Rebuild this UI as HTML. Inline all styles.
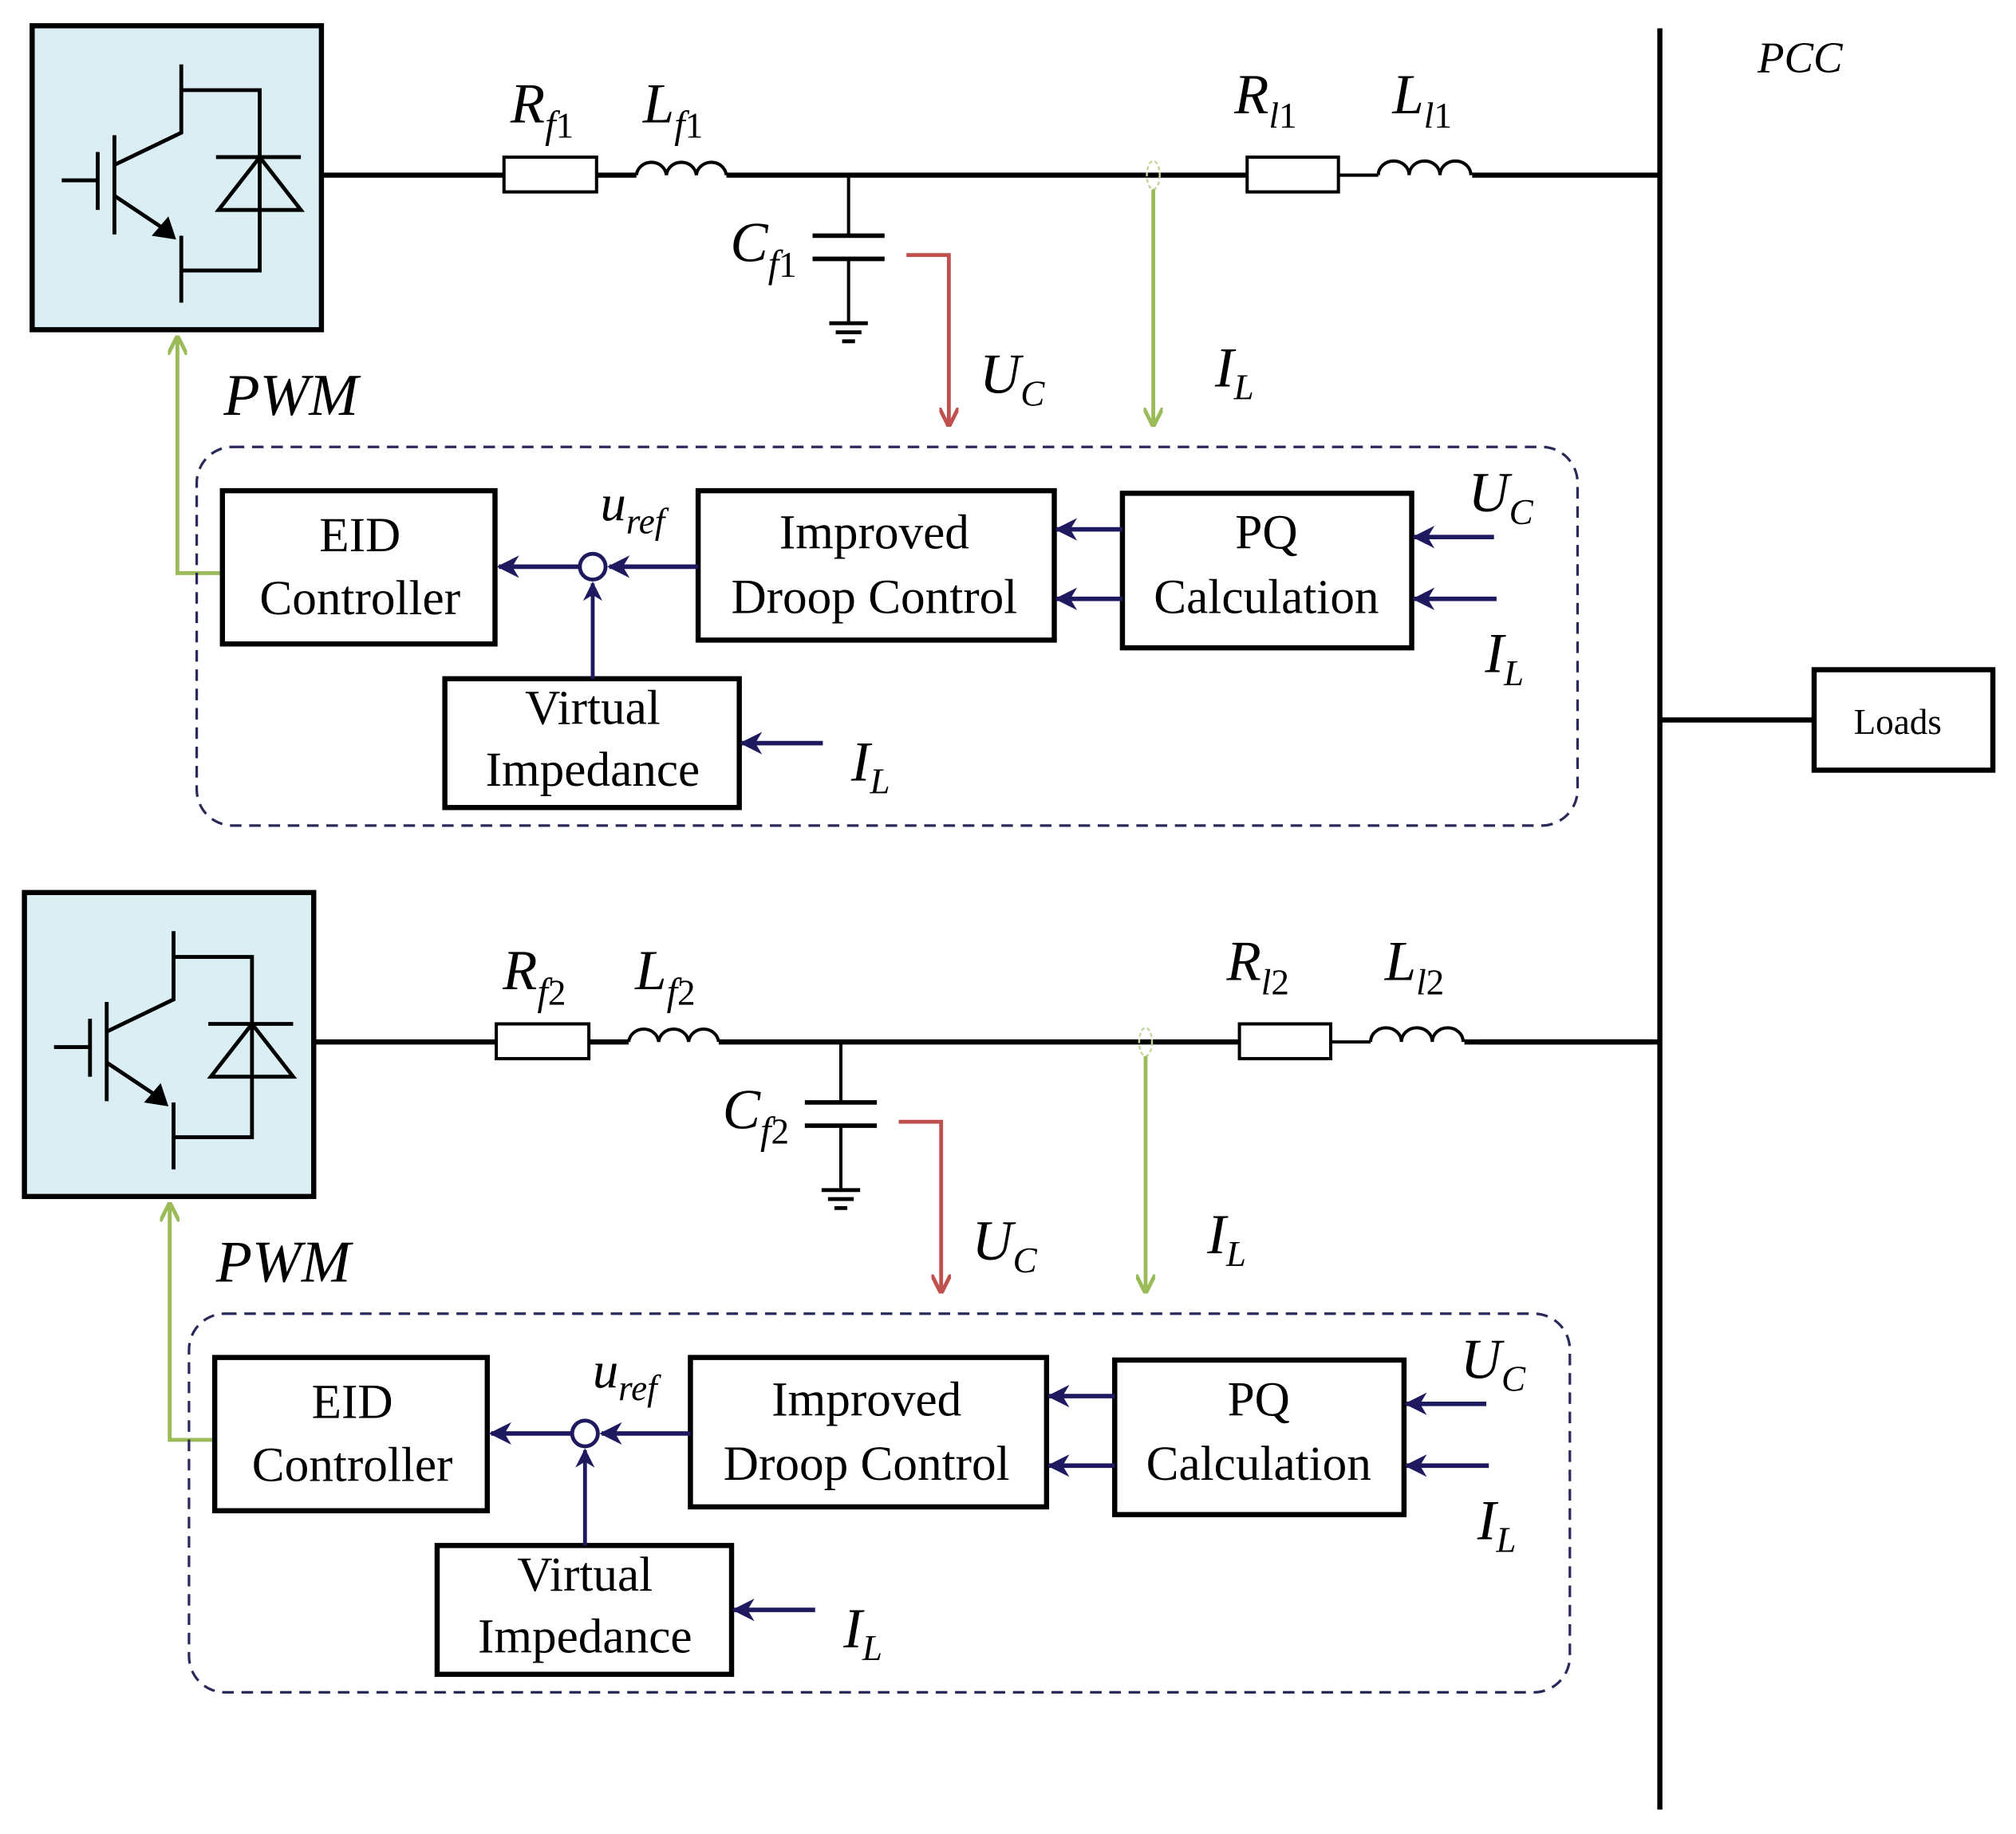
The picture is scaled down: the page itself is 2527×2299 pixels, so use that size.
<!DOCTYPE html>
<html><head><meta charset="utf-8"><style>
html,body{margin:0;padding:0;background:#fff;}
svg{display:block;}
text{font-family:"Liberation Serif",serif;fill:#000;}
.it{font-style:italic;}
</style></head><body>
<svg width="2527" height="2299" viewBox="0 0 1568 1424" preserveAspectRatio="none" xmlns="http://www.w3.org/2000/svg">
<defs>
<marker id="an" viewBox="0 0 10 10" refX="9" refY="5" markerWidth="5" markerHeight="5" orient="auto" markerUnits="strokeWidth"><path d="M0,0 L10,5 L0,10 L3,5 z" fill="#1f1a60"/></marker>
<marker id="ar" viewBox="0 0 10 10" refX="9" refY="5" markerWidth="5" markerHeight="5" orient="auto" markerUnits="strokeWidth"><path d="M0,0 L10,5 L0,10" fill="none" stroke="#c0504d" stroke-width="2"/></marker>
<marker id="ag" viewBox="0 0 10 10" refX="9" refY="5" markerWidth="5" markerHeight="5" orient="auto" markerUnits="strokeWidth"><path d="M0,0 L10,5 L0,10" fill="none" stroke="#9bbb59" stroke-width="2"/></marker>
<g id="unit">
  <rect x="25" y="20" width="225" height="236" fill="#daeef3" stroke="#000" stroke-width="4"/>
  <g stroke="#000" stroke-width="3" fill="none">
    <line x1="48" y1="140" x2="76" y2="140"/>
    <line x1="76" y1="118" x2="76" y2="163"/>
    <line x1="89" y1="105" x2="89" y2="182"/>
    <polyline points="141,50 141,103 89,128"/>
    <polyline points="141,70 202,70 202,210 141,210"/>
    <line x1="89" y1="152" x2="128" y2="178"/>
    <line x1="141" y1="183" x2="141" y2="235"/>
    <line x1="168" y1="122" x2="234" y2="122"/>
    <polygon points="202,122 170,163 234,163"/>
  </g>
  <polygon points="118,183 137,186 131,168" fill="#000"/>
  <g stroke="#000" fill="none">
    <line x1="250" y1="136" x2="392" y2="136" stroke-width="4"/>
    <rect x="392" y="122" width="72" height="27" stroke-width="2.5" fill="#fff"/>
    <line x1="464" y1="136" x2="495" y2="136" stroke-width="4"/>
    <path d="M495,136 a11.7,11 0 0 1 23.3,0 a11.7,11 0 0 1 23.3,0 a11.7,11 0 0 1 23.3,0" stroke-width="2.5"/>
    <line x1="565" y1="136" x2="970" y2="136" stroke-width="4"/>
    <rect x="970" y="122" width="71" height="27" stroke-width="2.5" fill="#fff"/>
    <line x1="1041" y1="136" x2="1072" y2="136" stroke-width="2.5"/>
    <path d="M1072,136 a12,11 0 0 1 24,0 a12,11 0 0 1 24,0 a12,11 0 0 1 24,0" stroke-width="2.5"/>
    <line x1="1145" y1="136" x2="1291" y2="136" stroke-width="4"/>
    <line x1="660" y1="136" x2="660" y2="183" stroke-width="2.5"/>
    <line x1="632" y1="183" x2="688" y2="183" stroke-width="3.5"/>
    <line x1="632" y1="201" x2="688" y2="201" stroke-width="3.5"/>
    <line x1="660" y1="201" x2="660" y2="250" stroke-width="2.5"/>
    <line x1="645" y1="251" x2="675" y2="251" stroke-width="3"/>
    <line x1="650" y1="258" x2="670" y2="258" stroke-width="3"/>
    <line x1="655" y1="265" x2="665" y2="265" stroke-width="3"/>
  </g>
  <polyline points="705,198 738,198 738,330" fill="none" stroke="#c0504d" stroke-width="3" marker-end="url(#ar)"/>
  <ellipse cx="897" cy="136" rx="5" ry="11" fill="none" stroke="#c4d79b" stroke-width="1.5" stroke-dasharray="3,2"/>
  <line x1="897" y1="147" x2="897" y2="330" stroke="#9bbb59" stroke-width="3" marker-end="url(#ag)"/>
  <polyline points="173,445 138,445 138,262" fill="none" stroke="#9bbb59" stroke-width="3" marker-end="url(#ag)"/>
  <rect x="153" y="347" width="1074" height="294" rx="28" fill="none" stroke="#2a2a5a" stroke-width="2" stroke-dasharray="9,6"/>
  <g fill="#fff" stroke="#000" stroke-width="4">
    <rect x="173" y="381" width="212" height="119"/>
    <rect x="543" y="381" width="277" height="116"/>
    <rect x="873" y="383" width="225" height="120"/>
    <rect x="346" y="527" width="229" height="100"/>
  </g>
  <g stroke="#1f1a60" stroke-width="3.5" fill="none">
    <circle cx="461" cy="440" r="10" stroke-width="3"/>
    <line x1="543" y1="440" x2="474" y2="440" marker-end="url(#an)"/>
    <line x1="451" y1="440" x2="388" y2="440" marker-end="url(#an)"/>
    <line x1="461" y1="527" x2="461" y2="453" stroke-width="3" marker-end="url(#an)"/>
    <line x1="873" y1="411" x2="822" y2="411" marker-end="url(#an)"/>
    <line x1="873" y1="465" x2="822" y2="465" marker-end="url(#an)"/>
    <line x1="1162" y1="417" x2="1100" y2="417" marker-end="url(#an)"/>
    <line x1="1164" y1="465" x2="1100" y2="465" marker-end="url(#an)"/>
    <line x1="640" y1="577" x2="577" y2="577" marker-end="url(#an)"/>
  </g>
</g>
</defs>
<use href="#unit"/>
<use href="#unit" transform="translate(-6,673)"/>
<line x1="1150" y1="809" x2="1291" y2="809" stroke="#000" stroke-width="4"/>
<line x1="1291" y1="22" x2="1291" y2="1405" stroke="#000" stroke-width="4"/>
<line x1="1291" y1="559" x2="1410" y2="559" stroke="#000" stroke-width="4"/>
<rect x="1411" y="520" width="139" height="78" fill="#fff" stroke="#000" stroke-width="4"/>
<text x="1476" y="570" font-size="28" text-anchor="middle">Loads</text>
<text x="1367" y="56" font-size="34" class="it">PCC</text>

<g>
<text x="397" y="95" font-size="44" class="it">R<tspan font-size="30" dy="12">f</tspan><tspan font-size="28" font-style="normal">1</tspan></text>
<text x="500" y="95" font-size="44" class="it">L<tspan font-size="30" dy="12">f</tspan><tspan font-size="28" font-style="normal">1</tspan></text>
<text x="568" y="203" font-size="44" class="it">C<tspan font-size="30" dy="12">f</tspan><tspan font-size="28" font-style="normal">1</tspan></text>
<text x="960" y="88" font-size="44" class="it">R<tspan font-size="28" dy="11">l</tspan><tspan font-size="28" font-style="normal">1</tspan></text>
<text x="1083" y="88" font-size="44" class="it">L<tspan font-size="28" dy="11">l</tspan><tspan font-size="28" font-style="normal">1</tspan></text>
<text x="762" y="305" font-size="44" class="it">U<tspan font-size="28" dy="10">C</tspan></text>
<text x="945" y="300" font-size="44" class="it">I<tspan font-size="28" dy="10">L</tspan></text>
<text x="174" y="322" font-size="46" class="it">PWM</text>
<text x="467" y="404" font-size="40" class="it">u<tspan font-size="28" dy="10">ref</tspan></text>
<text x="280" y="428" font-size="38" text-anchor="middle">EID</text>
<text x="280" y="477" font-size="38" text-anchor="middle">Controller</text>
<text x="680" y="426" font-size="38" text-anchor="middle">Improved</text>
<text x="680" y="476" font-size="38" text-anchor="middle">Droop Control</text>
<text x="985" y="426" font-size="38" text-anchor="middle">PQ</text>
<text x="985" y="476" font-size="38" text-anchor="middle">Calculation</text>
<text x="461" y="562" font-size="38" text-anchor="middle">Virtual</text>
<text x="461" y="610" font-size="38" text-anchor="middle">Impedance</text>
<text x="1142" y="397" font-size="44" class="it">U<tspan font-size="28" dy="10">C</tspan></text>
<text x="1155" y="522" font-size="44" class="it">I<tspan font-size="28" dy="10">L</tspan></text>
<text x="662" y="606" font-size="44" class="it">I<tspan font-size="28" dy="10">L</tspan></text>
</g>
<g transform="translate(-6,673)">
<text x="397" y="95" font-size="44" class="it">R<tspan font-size="30" dy="12">f</tspan><tspan font-size="28" font-style="normal">2</tspan></text>
<text x="500" y="95" font-size="44" class="it">L<tspan font-size="30" dy="12">f</tspan><tspan font-size="28" font-style="normal">2</tspan></text>
<text x="568" y="203" font-size="44" class="it">C<tspan font-size="30" dy="12">f</tspan><tspan font-size="28" font-style="normal">2</tspan></text>
<text x="960" y="88" font-size="44" class="it">R<tspan font-size="28" dy="11">l</tspan><tspan font-size="28" font-style="normal">2</tspan></text>
<text x="1083" y="88" font-size="44" class="it">L<tspan font-size="28" dy="11">l</tspan><tspan font-size="28" font-style="normal">2</tspan></text>
<text x="762" y="305" font-size="44" class="it">U<tspan font-size="28" dy="10">C</tspan></text>
<text x="945" y="300" font-size="44" class="it">I<tspan font-size="28" dy="10">L</tspan></text>
<text x="174" y="322" font-size="46" class="it">PWM</text>
<text x="467" y="404" font-size="40" class="it">u<tspan font-size="28" dy="10">ref</tspan></text>
<text x="280" y="428" font-size="38" text-anchor="middle">EID</text>
<text x="280" y="477" font-size="38" text-anchor="middle">Controller</text>
<text x="680" y="426" font-size="38" text-anchor="middle">Improved</text>
<text x="680" y="476" font-size="38" text-anchor="middle">Droop Control</text>
<text x="985" y="426" font-size="38" text-anchor="middle">PQ</text>
<text x="985" y="476" font-size="38" text-anchor="middle">Calculation</text>
<text x="461" y="562" font-size="38" text-anchor="middle">Virtual</text>
<text x="461" y="610" font-size="38" text-anchor="middle">Impedance</text>
<text x="1142" y="397" font-size="44" class="it">U<tspan font-size="28" dy="10">C</tspan></text>
<text x="1155" y="522" font-size="44" class="it">I<tspan font-size="28" dy="10">L</tspan></text>
<text x="662" y="606" font-size="44" class="it">I<tspan font-size="28" dy="10">L</tspan></text>
</g>
</svg>
</body></html>
